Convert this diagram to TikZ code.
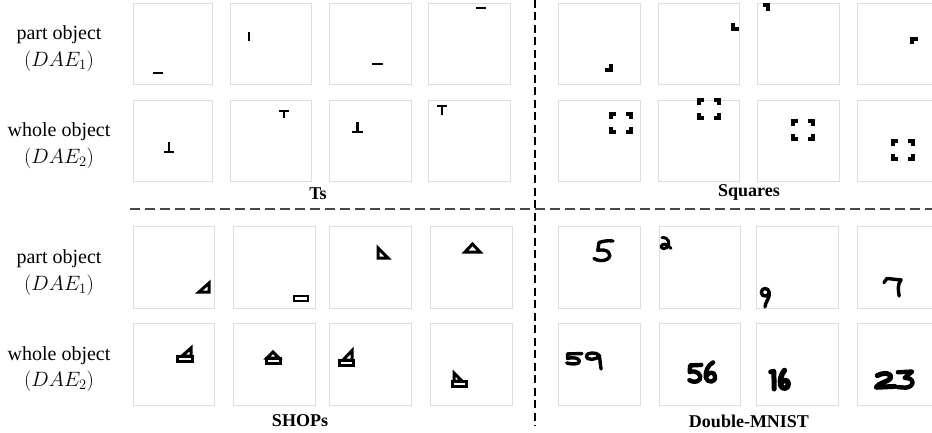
\documentclass[tikz,border=0pt]{standalone}
\usepackage{fontspec}
\setmainfont{Liberation Serif}
\begin{document}
\begin{tikzpicture}[x=1pt,y=-1pt,
  panel/.style={draw=black!13,line width=0.9pt},
  lbl/.style={font=\fontsize{20}{22}\selectfont,align=center,inner sep=0pt},
  ttl/.style={font=\fontsize{18}{20}\selectfont\bfseries,inner sep=0pt},
  glyph/.style={line width=3.2pt,line cap=butt,line join=miter,black},
  tglyph/.style={line width=2.6pt,line cap=butt,line join=miter,black},
  shop/.style={line width=3pt,line join=miter,black},
  hand/.style={line width=3.4pt,line cap=round,line join=round,black},
  sep/.style={dashed},
]
\clip (0,0) rectangle (932,433);
\fill[white] (0,0) rectangle (932,433);

% ---------- panels ----------
\foreach \xa/\xb in {133/212,230/311,329/411,428/510,558/640,658/739,757/839,857/939}{
  \draw[panel] (\xa,3) rectangle (\xb,84);
  \draw[panel] (\xa,100) rectangle (\xb,181);}
\foreach \xa/\xb in {133/214,233/315,329/411,430/512,558/640,659/740,756/838,857/939}{
  \draw[panel] (\xa,226) rectangle (\xb,308);
  \draw[panel] (\xa,323) rectangle (\xb,405);}

% ---------- row labels ----------
\node[lbl] (p1) at (59,35) {part object};
\node[lbl] (p1m) at (59,61) {$(DAE_1)$};
\node[lbl] (w1) at (59,132) {whole object};
\node[lbl] (w1m) at (59,158) {$(DAE_2)$};
\node[lbl] (p2) at (59,259) {part object};
\node[lbl] (p2m) at (59,285) {$(DAE_1)$};
\node[lbl] (w2) at (59,356) {whole object};
\node[lbl] (w2m) at (59,381) {$(DAE_2)$};

% ---------- titles ----------
\node[ttl] (tTs) at (318,194) {Ts};
\node[ttl] (tSq) at (749,192) {Squares};
\node[ttl] (tSh) at (300,421) {SHOPs};
\node[ttl] (tMn) at (749,421) {Double-MNIST};

% ---------- separators ----------
\coordinate (hL) at (130,209);
\coordinate (hR) at (932,209);
\coordinate (vT) at (535,0);
\coordinate (vB) at (535,426);
\draw[sep,draw=black!72,line width=1.9pt,dash pattern=on 10pt off 5pt] (hL) -- (hR);
\draw[sep,draw=black,line width=1.2pt,dash pattern=on 8pt off 4.5pt] (vT) -- (vB);

% ---------- Ts ----------
\draw[tglyph] (153,73) -- (163,73);
\draw[tglyph] (249,32) -- (249,41);
\draw[tglyph] (372,64) -- (383,64);
\draw[tglyph] (476,8) -- (486,8);
\draw[tglyph] (169,142) -- (169,152) (164,152) -- (174,152);
\draw[tglyph] (279,111) -- (289,111) (284,111) -- (284,118);
\draw[tglyph] (357.5,122) -- (357.5,132) (352,132) -- (363,132);
\draw[tglyph] (437,106) -- (447,106) (442,106) -- (442,115);

% ---------- Squares ----------
\draw[glyph] (605,70) -- (611,70) -- (611,64.5);
\draw[glyph] (733,23) -- (733,29) -- (739,29);
\draw[glyph] (763,5) -- (768,5) -- (768,11);
\draw[glyph] (912,44.5) -- (912,39) -- (918,39);
\foreach \sx/\sy in {611/113,699/99,793/120,893/140}{
  \begin{scope}[shift={(\sx,\sy)}]
    \draw[glyph] (0,6) -- (0,1) -- (5,1);
    \draw[glyph] (15,1) -- (20,1) -- (20,6);
    \draw[glyph] (0,14) -- (0,19) -- (5,19);
    \draw[glyph] (15,19) -- (20,19) -- (20,14);
  \end{scope}}

% ---------- SHOPs ----------
\draw[shop] (209,283) -- (209,292) -- (199,292) -- cycle;
\draw[shop,line width=2.6pt] (294,296) rectangle (308,301);
\draw[shop] (378,248) -- (378,258) -- (388,258) -- cycle;
\draw[shop] (472.5,244) -- (480,252) -- (465,252) -- cycle;
% whole
\draw[shop] (177,356) rectangle (192,361);
\draw[shop] (191,348) -- (191,356) -- (182,356) -- cycle;
\draw[shop] (266,358) rectangle (280,363);
\draw[shop] (273,352) -- (279,358) -- (267,358) -- cycle;
\draw[shop] (339,360) rectangle (353,365.5);
\draw[shop] (352,350.5) -- (352,360) -- (343,360) -- cycle;
\draw[shop] (452,381) rectangle (466,386.5);
\draw[shop] (454,373) -- (454,381) -- (462,381) -- cycle;

% ---------- Double-MNIST ----------
% part: 5
\begin{scope}[shift={(593,240)},xscale=20,yscale=21]
  \draw[hand] (1,0.05) .. controls (0.7,0.0) and (0.45,0.08) .. (0.3,0.12) -- (0.24,0.5)
    .. controls (0.7,0.38) and (1.05,0.7) .. (0.7,0.92) .. controls (0.5,1.03) and (0.2,0.98) .. (0.05,0.88);
\end{scope}
% part: 2 (loopy)
\begin{scope}[shift={(659,237)},xscale=12,yscale=12]
  \draw[hand,line width=3pt] (0.25,0.05) .. controls (0.85,0.0) and (0.95,0.6) .. (0.65,0.88)
    .. controls (0.35,1.1) and (0.0,0.85) .. (0.3,0.62) .. controls (0.55,0.5) and (0.85,0.8) .. (1,0.95);
\end{scope}
% part: 9
\begin{scope}[shift={(760,288)},xscale=11,yscale=19]
  \draw[hand] (0.85,0.25) .. controls (0.8,-0.05) and (0.1,-0.05) .. (0.12,0.25)
    .. controls (0.15,0.5) and (0.8,0.45) .. (0.85,0.25) .. controls (0.9,0.55) and (0.5,0.7) .. (0.45,1);
\end{scope}
% part: 7
\begin{scope}[shift={(883,277)},xscale=19,yscale=19]
  \draw[hand] (0.05,0.3) -- (0.2,0.08) .. controls (0.5,0.1) and (0.8,0.15) .. (0.95,0.15)
    .. controls (0.75,0.4) and (0.8,0.7) .. (0.85,1);
\end{scope}
% whole: 59
\begin{scope}[shift={(565,353)},xscale=17,yscale=11]
  \draw[hand] (1,0.05) -- (0.15,0.08) -- (0.15,0.5)
    .. controls (0.6,0.3) and (1.0,0.6) .. (0.8,0.9) .. controls (0.6,1.05) and (0.3,1.0) .. (0.1,0.9);
\end{scope}
\begin{scope}[shift={(584,352)},xscale=18,yscale=17]
  \draw[hand] (0.85,0.2) .. controls (0.7,0.0) and (0.15,0.0) .. (0.12,0.25)
    .. controls (0.1,0.5) and (0.75,0.5) .. (0.85,0.2) .. controls (0.9,0.5) and (0.9,0.75) .. (0.95,1);
\end{scope}
% whole: 56
\begin{scope}[shift={(688,364)},xscale=14,yscale=18]
  \draw[hand,line width=4.4pt] (0.95,0.05) -- (0.15,0.08) -- (0.12,0.45)
    .. controls (0.6,0.3) and (1.0,0.6) .. (0.85,0.85) .. controls (0.65,1.05) and (0.3,1.0) .. (0.1,0.9);
\end{scope}
\begin{scope}[shift={(704,362)},xscale=13,yscale=20]
  \draw[hand,line width=4.4pt] (0.7,0.02) .. controls (0.3,0.15) and (0.05,0.5) .. (0.15,0.8)
    .. controls (0.25,1.05) and (0.9,1.05) .. (0.85,0.72) .. controls (0.8,0.45) and (0.35,0.5) .. (0.2,0.7);
\end{scope}
% whole: 16
\begin{scope}[shift={(770,371)},xscale=7,yscale=18]
  \draw[hand,line width=5pt] (0.1,0.05) -- (0.55,0.02) -- (0.6,1);
\end{scope}
\begin{scope}[shift={(779,370)},xscale=11,yscale=19]
  \draw[hand,line width=5.4pt] (0.5,0.02) .. controls (0.2,0.2) and (0.05,0.55) .. (0.15,0.8)
    .. controls (0.25,1.05) and (0.9,1.0) .. (0.85,0.72) .. controls (0.8,0.5) and (0.4,0.5) .. (0.2,0.68);
\end{scope}
% whole: 23
\begin{scope}[shift={(874,372)},xscale=22,yscale=18]
  \draw[hand,line width=5pt] (0.15,0.2) .. controls (0.45,0.0) and (0.85,0.05) .. (0.75,0.35)
    .. controls (0.65,0.55) and (0.2,0.6) .. (0.1,0.85) -- (0.95,0.8);
\end{scope}
\begin{scope}[shift={(896,370)},xscale=19,yscale=19]
  \draw[hand,line width=4.4pt] (0.1,0.12) -- (0.85,0.08) -- (0.45,0.42)
    .. controls (1.0,0.38) and (1.0,0.9) .. (0.5,0.93) -- (0.1,0.9);
\end{scope}
\end{tikzpicture}
\end{document}
